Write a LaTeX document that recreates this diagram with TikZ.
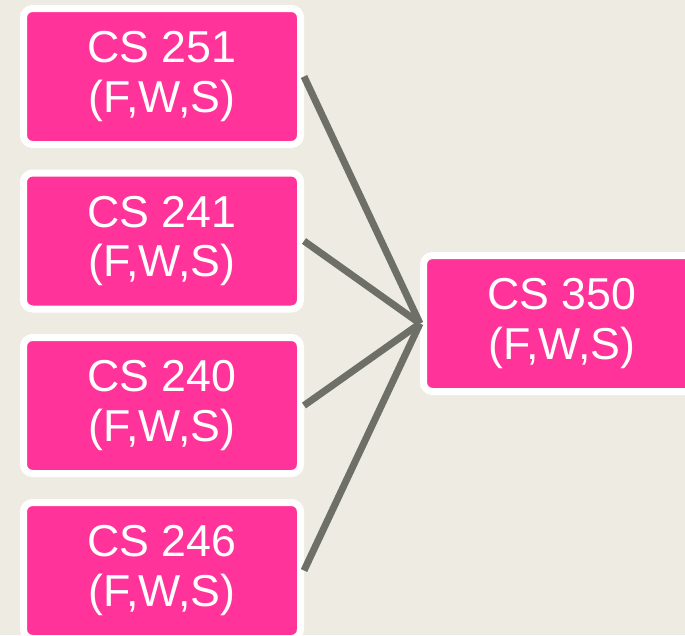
\documentclass[tikz,border=0pt]{standalone}
\usepackage{fontspec}
\setmainfont{Liberation Sans}
\usetikzlibrary{arrows}

\definecolor{coursepink}{RGB}{255,51,153}
\definecolor{paper}{RGB}{238,235,226}
\definecolor{linkgrey}{RGB}{110,111,103}

\begin{document}
\begin{tikzpicture}[x=1pt,y=1pt,
  course node/.style={rectangle,rounded corners=9pt,fill=coursepink,draw=white,line width=7pt,
    minimum width=277pt,minimum height=136pt,align=center,text=white,
    font=\fontsize{44.7}{49.5}\selectfont}]

  \path[use as bounding box,fill=paper] (0,0) rectangle (685,-635);

  \node[course node] (c251) at (162,-76.5) {CS 251\\(F,W,S)};
  \node[course node] (c241) at (162,-241) {CS 241\\(F,W,S)};
  \node[course node] (c240) at (162,-405.5) {CS 240\\(F,W,S)};
  \node[course node] (c246) at (162,-570.5) {CS 246\\(F,W,S)};
  \node[course node] (c350) at (562,-323.5) {CS 350\\(F,W,S)};

  \path[every edge/.style={draw=linkgrey,line width=7pt}]
    (c251.east) edge (c350.west)
    (c241.east) edge (c350.west)
    (c240.east) edge (c350.west)
    (c246.east) edge (c350.west)
    ;
\end{tikzpicture}
\end{document}
